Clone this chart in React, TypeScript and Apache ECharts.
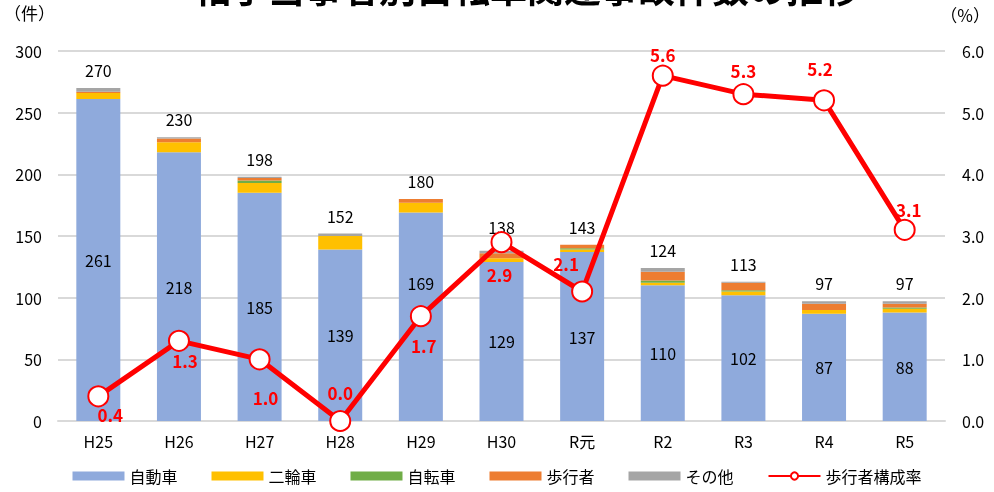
import React, { useEffect, useRef } from "react";
import * as echarts from "echarts";

const categories = ["H25", "H26", "H27", "H28", "H29", "H30", "R元", "R2", "R3", "R4", "R5"];
const car = [261, 218, 185, 139, 169, 129, 137, 110, 102, 87, 88];
const twoWheel = [5, 8, 8, 11, 8, 3, 2, 2, 3, 3, 3];
const bicycle = [0, 0, 2, 0, 0, 0, 1, 2, 1, 0, 1];
const pedestrian = [1, 3, 2, 0, 3, 4, 3, 7, 6, 5, 3];
const other = [3, 1, 1, 2, 0, 2, 0, 3, 1, 2, 2];
const pedRate = [0.4, 1.3, 1.0, 0.0, 1.7, 2.9, 2.1, 5.6, 5.3, 5.2, 3.1];
const rateLabelOffsets: [number, number][] = [
  [12, 18], [6, 20], [6, 38], [0, -29], [3, 29], [-2, 32], [-16, -28], [0, -21], [0, -24], [-4, -32], [4, -20],
];
const carLabelOffsets: [number, number][] = [
  [0, 0], [0, 0], [0, 0], [0, 0], [0, -34], [0, 0], [0, 0], [0, 0], [0, 0], [0, 0], [0, 0],
];
const totalLabelOffsets: [number, number][] = [
  [0, 0], [0, 0], [0, 0], [0, 0], [0, 0], [0, -6], [0, 0], [0, 0], [0, 0], [0, 0], [0, 0],
];

const totals = car.map((v, i) => v + twoWheel[i] + bicycle[i] + pedestrian[i] + other[i]);

const FONT = "'Noto Sans CJK JP', 'Noto Sans', sans-serif";

export default function App() {
  const ref = useRef<HTMLDivElement>(null);
  useEffect(() => {
    if (!ref.current) return;
    const chart = echarts.init(ref.current, undefined, { renderer: "svg" });
    const barBase = {
      type: "bar",
      stack: "total",
      barWidth: 44,
      yAxisIndex: 0,
    };
    chart.setOption({
      animation: false,
      textStyle: { fontFamily: FONT },
      grid: { left: 58, right: 49, top: 51, bottom: 71 },
      legend: {
        bottom: 3,
        left: "center",
        itemWidth: 52,
        itemHeight: 9,
        itemGap: 34,
        textStyle: { fontSize: 16, color: "#000", fontFamily: FONT },
        data: [
          { name: "自動車", icon: "rect" },
          { name: "二輪車", icon: "rect" },
          { name: "自転車", icon: "rect" },
          { name: "歩行者", icon: "rect" },
          { name: "その他", icon: "rect" },
          { name: "歩行者構成率" },
        ],
      },
      graphic: [
        {
          type: "text",
          left: 4,
          top: 4,
          style: { text: "（件）", fontSize: 17, fill: "#000", fontFamily: FONT },
        },
        {
          type: "text",
          right: 4,
          top: 6,
          style: { text: "（%）", fontSize: 17, fill: "#000", fontFamily: FONT },
        },
        {
          type: "text",
          x: 527,
          y: -13,
          style: {
            text: "相手当事者別自転車関連事故件数の推移",
            fontSize: 37,
            fontWeight: "bold",
            fill: "#000",
            fontFamily: FONT,
            align: "center",
            verticalAlign: "middle",
          },
        },
      ],
      xAxis: {
        type: "category",
        data: categories,
        axisLine: { lineStyle: { color: "#d9d9d9", width: 2 } },
        axisTick: { show: false },
        axisLabel: { fontSize: 16, color: "#000", margin: 12, fontFamily: FONT },
      },
      yAxis: [
        {
          type: "value",
          min: 0,
          max: 300,
          interval: 50,
          axisLine: { show: false },
          axisTick: { show: false },
          axisLabel: { fontSize: 16, color: "#000", margin: 16, fontFamily: FONT },
          splitLine: { lineStyle: { color: "#d9d9d9", width: 2 } },
        },
        {
          type: "value",
          min: 0,
          max: 6,
          interval: 1,
          axisLine: { show: false },
          axisTick: { show: false },
          splitLine: { show: false },
          axisLabel: {
            fontSize: 16,
            color: "#000",
            margin: 17,
            fontFamily: FONT,
            formatter: (v: number) => v.toFixed(1),
          },
        },
      ],
      series: [
        {
          ...barBase,
          name: "自動車",
          data: car.map((v, i) => ({ value: v, label: { offset: carLabelOffsets[i] } })),
          itemStyle: { color: "#8faadc" },
          label: { show: true, position: "inside", fontSize: 16, color: "#000", fontFamily: FONT },
        },
        { ...barBase, name: "二輪車", data: twoWheel, itemStyle: { color: "#ffc000" } },
        { ...barBase, name: "自転車", data: bicycle, itemStyle: { color: "#70ad47" } },
        { ...barBase, name: "歩行者", data: pedestrian, itemStyle: { color: "#ed7d31" } },
        { ...barBase, name: "その他", data: other, itemStyle: { color: "#a5a5a5" } },
        {
          name: "合計",
          type: "scatter",
          yAxisIndex: 0,
          data: totals.map((v, i) => ({ value: v, label: { offset: totalLabelOffsets[i] } })),
          symbolSize: 0,
          silent: true,
          z: 4,
          itemStyle: { opacity: 1 },
          label: {
            show: true,
            position: "top",
            distance: 10,
            fontSize: 16,
            color: "#000",
            opacity: 1,
            fontFamily: FONT,
          },
        },
        {
          name: "歩行者構成率",
          type: "line",
          yAxisIndex: 1,
          data: pedRate.map((v, i) => ({
            value: v,
            label: { offset: rateLabelOffsets[i] },
          })),
          symbol: "circle",
          symbolSize: 20,
          lineStyle: { color: "#ff0000", width: 5 },
          itemStyle: { color: "#ffffff", borderColor: "#ff0000", borderWidth: 2 },
          z: 5,
          label: {
            show: true,
            position: "inside",
            fontSize: 17,
            fontWeight: "bold",
            color: "#ff0000",
            fontFamily: FONT,
            formatter: (p: any) => Number(p.value).toFixed(1),
          },
        },
      ],
    });
    return () => chart.dispose();
  }, []);
  return (
    <div
      ref={ref}
      style={{ position: "fixed", left: 0, top: 0, width: 994, height: 492 }}
    />
  );
}
